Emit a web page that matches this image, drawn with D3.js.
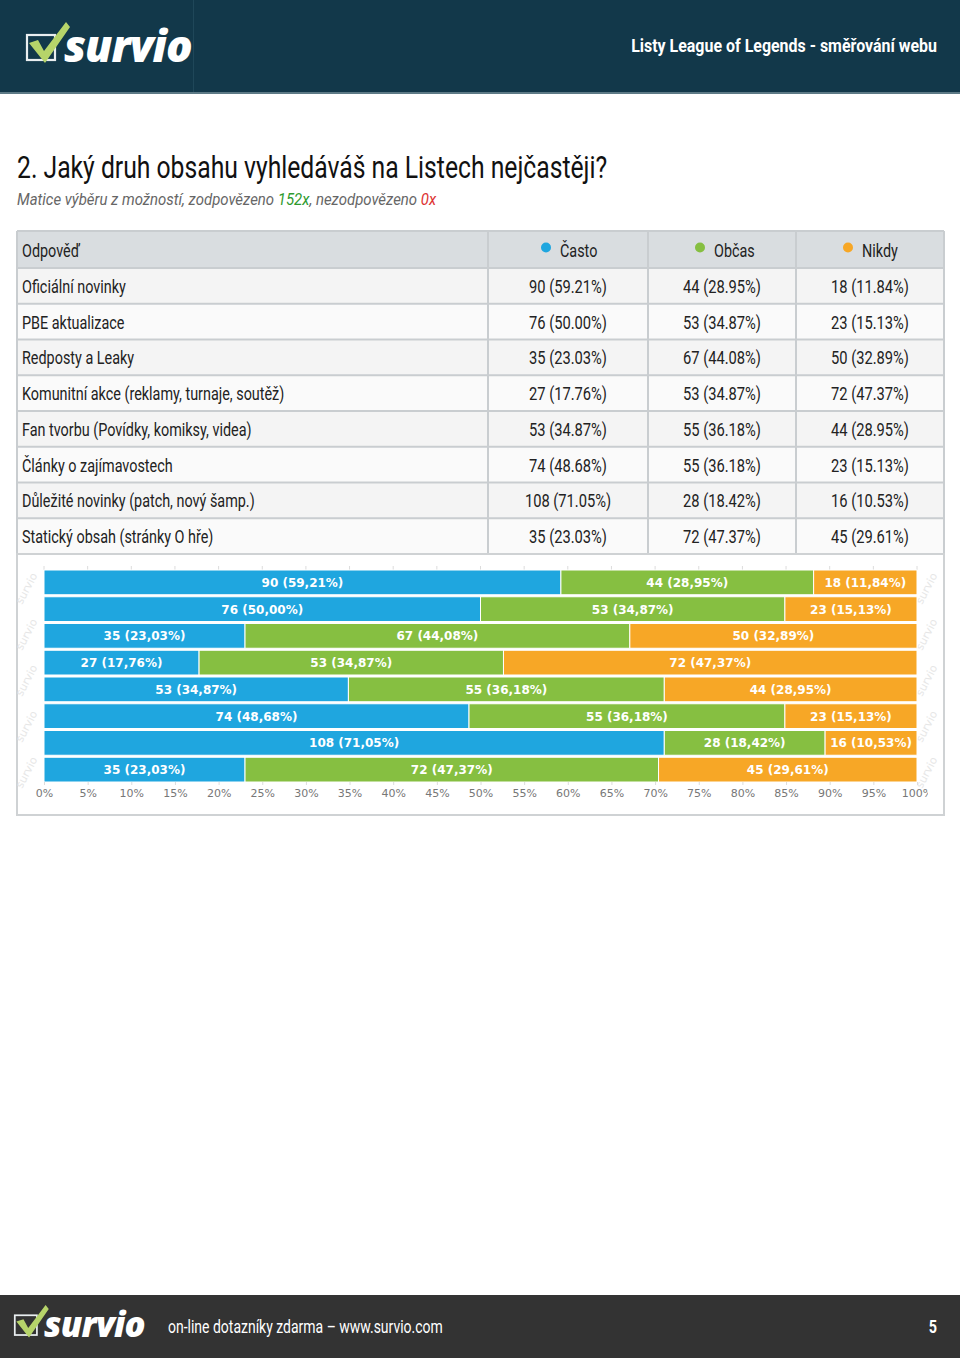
<!DOCTYPE html>
<html><head><meta charset="utf-8">
<script src="https://cdn.jsdelivr.net/npm/d3@7"></script>
<style>
html,body{margin:0;padding:0;background:#fff;}
svg{display:block;}
</style></head>
<body>
<svg id="c" width="960" height="1358"></svg>
<script>
const categories = ["Oficiální novinky","PBE aktualizace","Redposty a Leaky","Komunitní akce (reklamy, turnaje, soutěž)","Fan tvorbu (Povídky, komiksy, videa)","Články o zajímavostech","Důležité novinky (patch, nový šamp.)","Statický obsah (stránky O hře)"];
const seriesNames = ["Často","Občas","Nikdy"];
const casto = [90,76,35,27,53,74,108,35];
const obcas = [44,53,67,53,55,55,28,72];
const nikdy = [18,23,50,72,44,23,16,45];
const answered = 152, unanswered = 0;
const tickValues = [0,5,10,15,20,25,30,35,40,45,50,55,60,65,70,75,80,85,90,95,100];

const colors = ["#1fa6df","#86bf41","#f7a726"];
const NARROW = 'Roboto,"Liberation Sans",sans-serif';
const SX = 0.80;
const svg = d3.select("#c");

// condensed text helper (horizontal squeeze of Roboto to mimic narrow font)
function ntext(parent, x, y, str, size, o = {}){
  const t = parent.append("text")
    .attr("transform", `translate(${x},${y}) scale(${o.sx || SX},1)`)
    .attr("font-family", NARROW).attr("font-size", size)
    .attr("fill", o.fill || "#222")
    .attr("text-anchor", o.anchor || "start");
  if (o.weight) t.attr("font-weight", o.weight);
  if (o.style) t.attr("font-style", o.style);
  if (str !== null) t.text(str);
  return t;
}

// ---------- header ----------
svg.append("rect").attr("x",0).attr("y",0).attr("width",960).attr("height",94).attr("fill","#12384a");
svg.append("rect").attr("x",0).attr("y",92).attr("width",960).attr("height",2).attr("fill","#5d7a86");
svg.append("rect").attr("x",193).attr("y",0).attr("width",1).attr("height",92).attr("fill","#1f4759");
function logo(g){
  g.append("rect").attr("x",1).attr("y",13).attr("width",28).attr("height",25).attr("fill","none").attr("stroke","#e9eef0").attr("stroke-width",2.2);
  g.append("path").attr("d","M3,21 L12,18 L18,29 L40,0 L44,5 L19,41 Z").attr("fill","#b6d46a");
  g.append("text").attr("x",38).attr("y",40).attr("fill","#fff").attr("font-family","'Open Sans','DejaVu Sans',sans-serif")
    .attr("font-weight",800).attr("font-style","italic").attr("font-size",44).attr("letter-spacing",-1).text("survio");
}
logo(svg.append("g").attr("transform","translate(26,22)"));
ntext(svg, 937, 52, "Listy League of Legends - směřování webu", 19, {anchor:"end", fill:"#fff", weight:"bold", sx:0.84});

// ---------- title ----------
ntext(svg, 17, 178, "2. Jaký druh obsahu vyhledáváš na Listech nejčastěji?", 31, {fill:"#111", sx:0.797});
const sub = ntext(svg, 17, 205, null, 17, {fill:"#666", style:"italic", sx:0.88});
sub.append("tspan").text("Matice výběru z možností, zodpovězeno ");
sub.append("tspan").attr("fill","#2e9a2e").text(answered+"x");
sub.append("tspan").text(", nezodpovězeno ");
sub.append("tspan").attr("fill","#d33").text(unanswered+"x");

// ---------- table ----------
const colEdges = [17,488,648,796,944];
const rowTop = 231, headH = 37, rowH = 35.75;
const tbl = svg.append("g");
tbl.append("rect").attr("x",17).attr("y",rowTop).attr("width",927).attr("height",headH).attr("fill","#d9dde0");
categories.forEach((c,i)=>{
  tbl.append("rect").attr("x",17).attr("y",rowTop+headH+i*rowH).attr("width",927).attr("height",rowH)
    .attr("fill", i%2===0 ? "#f4f4f4" : "#fafafa");
});
const tableBottom = rowTop+headH+categories.length*rowH;
for(let i=0;i<=categories.length+1;i++){
  const yy = i===0?rowTop:rowTop+headH+(i-1)*rowH;
  tbl.append("line").attr("x1",17).attr("x2",944).attr("y1",yy).attr("y2",yy).attr("stroke","#c9cdd0").attr("stroke-width",2);
}
colEdges.forEach(xx=>{
  tbl.append("line").attr("x1",xx).attr("x2",xx).attr("y1",rowTop).attr("y2",tableBottom).attr("stroke","#c9cdd0").attr("stroke-width",2);
});
ntext(tbl, 22, rowTop+headH/2+7, "Odpověď", 18);
seriesNames.forEach((s,j)=>{
  const cx = (colEdges[j+1]+colEdges[j+2])/2;
  tbl.append("circle").attr("cx",cx-22).attr("cy",rowTop+headH/2-2).attr("r",5).attr("fill",colors[j]);
  ntext(tbl, cx-8, rowTop+headH/2+7, s, 18);
});
const series = [casto,obcas,nikdy];
categories.forEach((c,i)=>{
  const yy = rowTop+headH+i*rowH+rowH/2+7;
  ntext(tbl, 22, yy, c, 18);
  series.forEach((arr,j)=>{
    const cx = (colEdges[j+1]+colEdges[j+2])/2;
    ntext(tbl, cx, yy, arr[i]+" ("+(arr[i]/answered*100).toFixed(2)+"%)", 18, {anchor:"middle", sx:0.817});
  });
});

// ---------- chart ----------
const boxY = tableBottom, boxH = 815-tableBottom;
const chart = svg.append("g");
const defs = svg.append("defs");
defs.append("clipPath").attr("id","axclip").append("rect").attr("x",18).attr("y",boxY).attr("width",910).attr("height",boxH);
chart.append("rect").attr("x",17).attr("y",boxY).attr("width",927).attr("height",boxH).attr("fill","#fff").attr("stroke","#cfd2d4").attr("stroke-width",2);

// faint watermark in side margins
const wm = chart.append("g");
[22, 922].forEach(wx=>{
  for(let wy=605; wy<=800; wy+=46){
    wm.append("text").attr("transform",`translate(${wx},${wy}) rotate(-62)`).attr("font-family","'DejaVu Sans',sans-serif")
      .attr("font-size",11).attr("fill","#e6e6e6").text("survio");
  }
});

const x = d3.scaleLinear().domain([0,100]).range([44,917]);
const y = d3.scaleBand().domain(categories).range([570,782]).paddingInner(0.075).paddingOuter(0);

chart.selectAll(".tk").data(tickValues).join("line").attr("class","tk")
  .attr("x1",d=>x(d)).attr("x2",d=>x(d)).attr("y1",566).attr("y2",570).attr("stroke","#dcdcdc");

const rows = categories.map((c,i)=>{const o=[casto[i],obcas[i],nikdy[i]]; o.cat=c; return o;});
const stacked = d3.stack().keys([0,1,2]).value((d,k)=>d[k]/answered*100)(rows);
stacked.forEach((layer,j)=>{
  const g = chart.append("g");
  g.selectAll("rect").data(layer).join("rect")
    .attr("x",d=>x(d[0])).attr("y",d=>y(d.data.cat))
    .attr("width",d=>x(d[1])-x(d[0])).attr("height",y.bandwidth())
    .attr("fill",colors[j]).attr("stroke","#fff").attr("stroke-width",1);
  g.selectAll("text").data(layer).join("text")
    .attr("x",d=>(x(d[0])+x(d[1]))/2).attr("y",d=>y(d.data.cat)+y.bandwidth()/2+4.5)
    .attr("text-anchor","middle").attr("fill","#fff").attr("font-family","'DejaVu Sans',sans-serif")
    .attr("font-weight","bold").attr("font-size",12)
    .text(d=>{const v=d.data[j]; return v+" ("+(v/answered*100).toFixed(2).replace(".",",")+"%)";});
});

// axis
const axis = d3.axisBottom(x).tickValues(tickValues).tickFormat(d=>d+"%").tickSize(3).tickPadding(4);
const axWrap = chart.append("g").attr("clip-path","url(#axclip)");
const ax = axWrap.append("g").attr("transform","translate(0,782)").call(axis);
ax.select(".domain").remove();
ax.selectAll(".tick line").attr("stroke","#dcdcdc");
ax.selectAll("text").attr("font-family","'DejaVu Sans',sans-serif").attr("font-size",11).attr("fill","#777");

// ---------- footer ----------
svg.append("rect").attr("x",0).attr("y",1295).attr("width",960).attr("height",63).attr("fill","#333");
logo(svg.append("g").attr("transform","translate(14,1305) scale(0.79)"));
ntext(svg, 168, 1333, "on-line dotazníky zdarma – www.survio.com", 18, {fill:"#fff", sx:0.777});
ntext(svg, 937, 1333, "5", 18, {anchor:"end", fill:"#fff", weight:"bold"});
</script>
</body></html>
